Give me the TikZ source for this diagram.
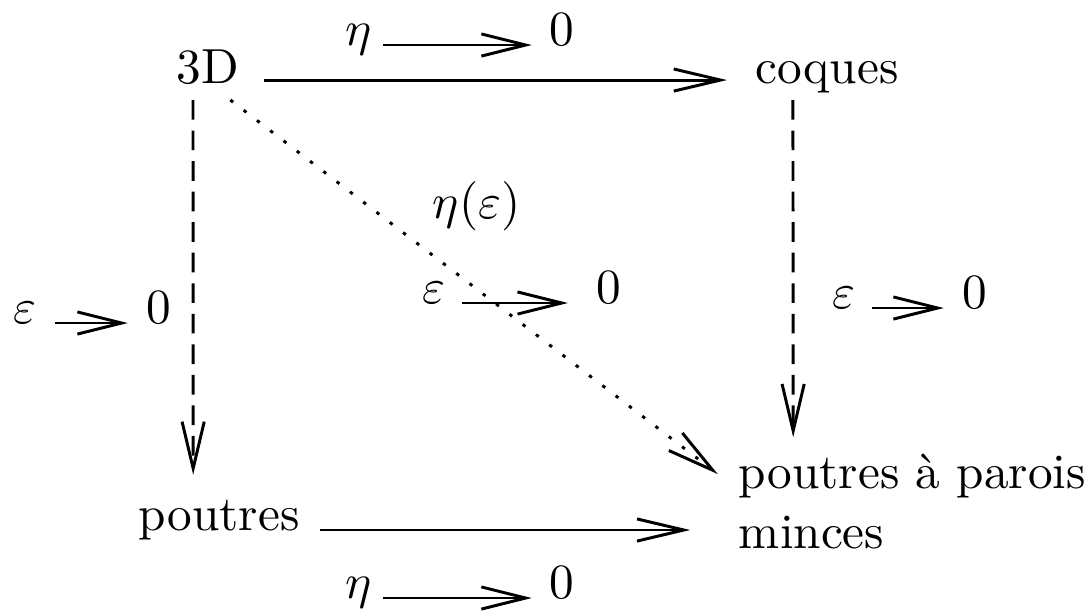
\documentclass[tikz,border=0pt]{standalone}
\usetikzlibrary{arrows.meta}
\tikzset{
  dgnode/.style={inner sep=0pt, anchor=base west},
  dgarrow/.style={line width=.6pt, -{Straight Barb[length=9.5pt,width=4.5pt]}},
  dglimit/.style={line width=.6pt, -{Straight Barb[length=9pt,width=4.5pt]}},
  dgdashed/.style={dgarrow, dash pattern=on 4pt off 2.2pt},
  dgdotted/.style={dgarrow, dash pattern=on .7pt off 2.7pt}
}
\begin{document}
\begin{tikzpicture}[x=.203pt, y=-.203pt]
\useasboundingbox (0,0) rectangle (1092,610);

\node[dgnode] (td) at (176,83) {3D};
\node[dgnode] (cq) at (755,83) {coques};
\node[dgnode] (pt) at (138,530) {poutres};
\node[dgnode, align=left] (pm) at (738,548) {poutres \`a parois\\minces};

\draw[dgarrow] ([xshift=4.9pt,yshift=.6pt]td.base east) -- ([xshift=-5.7pt,yshift=.6pt]cq.base west);
\draw[dgarrow] ([xshift=3.9pt]pt.base east) -- ([xshift=-9.7pt]pm.west |- pt.base);
\draw[dgdashed] ([xshift=3.45pt,yshift=-3.45pt]td.base west) -- ([xshift=11.2pt,yshift=11.2pt]pt.base west);
\draw[dgdashed] ([xshift=7.7pt,yshift=-3.45pt]cq.base west) -- ([xshift=11.2pt,yshift=22.5pt]pm.base west);
\draw[dgdotted] ([xshift=-2pt,yshift=-3.45pt]td.base east) -- ([xshift=-4.1pt,yshift=15pt]pm.base west);

% limites
\node[dgnode] (etaT) at (345,45) {$\eta$};
\node[dgnode] (zeroT) at (549,45) {$0$};
\draw[dglimit, shorten <=2pt, shorten >=3.5pt] (etaT.base east) -- (zeroT.base west);

\node[dgnode] (etaB) at (345,598) {$\eta$};
\node[dgnode] (zeroB) at (549,598) {$0$};
\draw[dglimit, shorten <=2pt, shorten >=3.5pt] (etaB.base east) -- (zeroB.base west);

\node[dgnode] (epsL) at (13,323) {$\varepsilon$};
\node[dgnode] (zeroL) at (146,323) {$0$};
\draw[dglimit, shorten <=3.5pt, shorten >=3.7pt] (epsL.base east) -- (zeroL.base west);

\node[dgnode] (epsM) at (422,303) {$\varepsilon$};
\node[dgnode] (zeroM) at (596,303) {$0$};
\draw[dglimit, shorten <=3pt, shorten >=5.7pt] (epsM.base east) -- (zeroM.base west);

\node[dgnode] (epsR) at (831,308) {$\varepsilon$};
\node[dgnode] (zeroR) at (961,308) {$0$};
\draw[dglimit, shorten <=3.2pt, shorten >=3.5pt] (epsR.base east) -- (zeroR.base west);

\node[dgnode] (etaeps) at (432,218) {$\eta(\varepsilon)$};
\end{tikzpicture}
\end{document}
